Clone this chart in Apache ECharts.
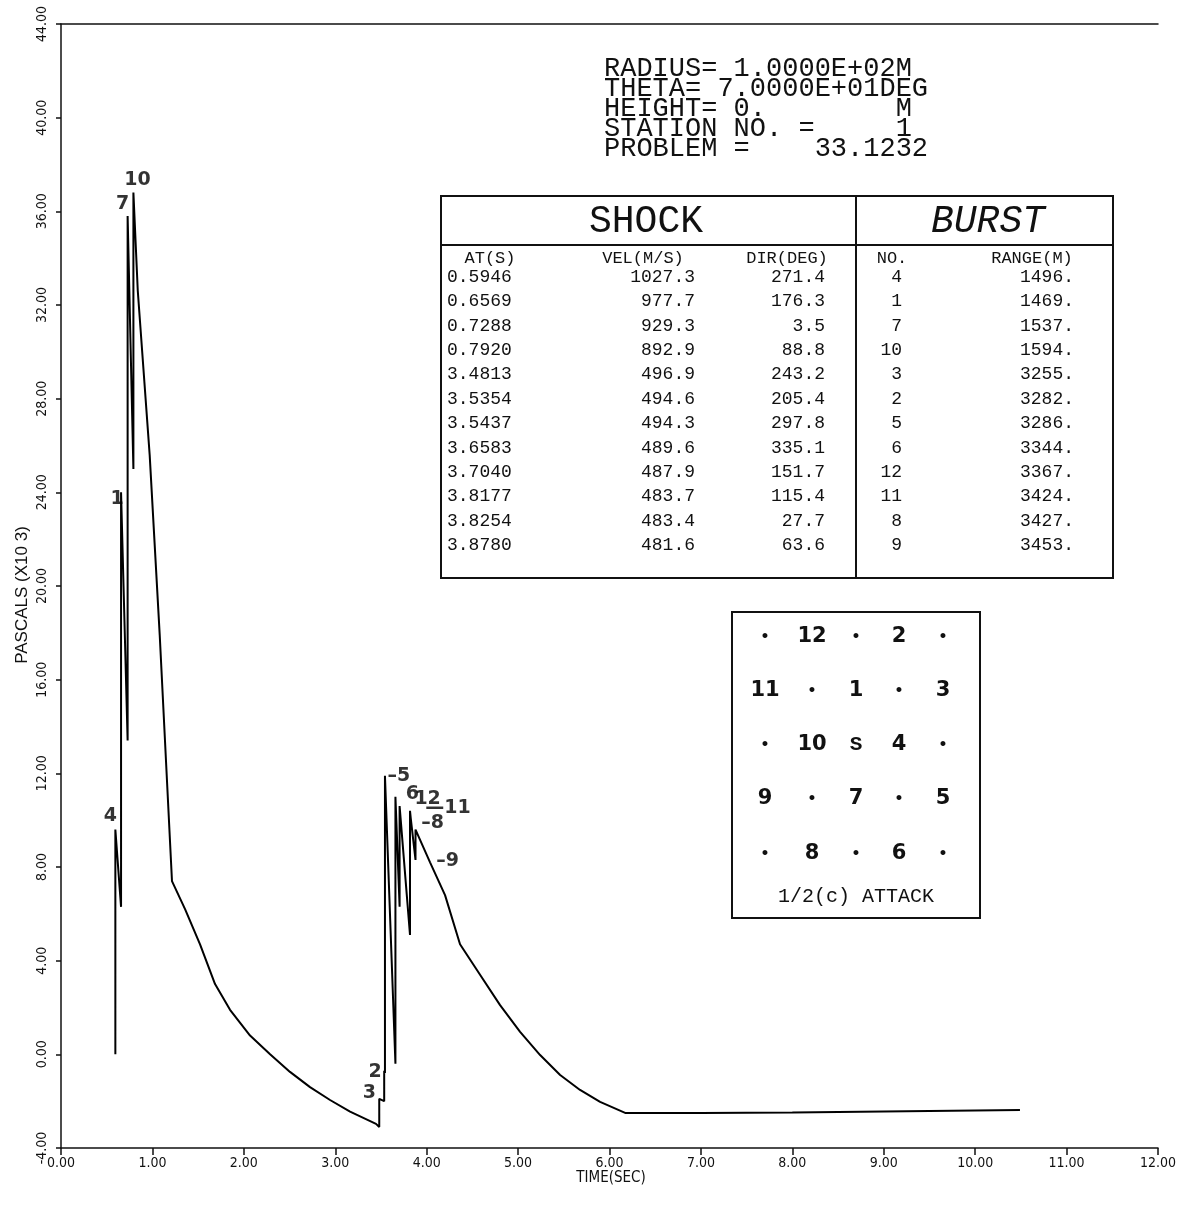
<!DOCTYPE html>
<html>
<head>
<meta charset="utf-8">
<script src="https://cdn.jsdelivr.net/npm/echarts@6/dist/echarts.min.js"></script>
<style>
  html, body { margin: 0; padding: 0; background: #fff; }
  #chart { width: 1181px; height: 1205px; }
</style>
</head>
<body>
<div id="chart"></div>
<script>
// Station 1 overpressure record, 1/2(c) attack (12 bursts)
const burstNo   = [4, 1, 7, 10, 3, 2, 5, 6, 12, 11, 8, 9];
const arrivalS  = [0.5946, 0.6569, 0.7288, 0.7920, 3.4813, 3.5354, 3.5437, 3.6583, 3.7040, 3.8177, 3.8254, 3.8780];
const velMS     = ['1027.3', '977.7', '929.3', '892.9', '496.9', '494.6', '494.3', '489.6', '487.9', '483.7', '483.4', '481.6'];
const dirDeg    = ['271.4', '176.3', '3.5', '88.8', '243.2', '205.4', '297.8', '335.1', '151.7', '115.4', '27.7', '63.6'];
const rangeM    = ['1496.', '1469.', '1537.', '1594.', '3255.', '3282.', '3286.', '3344.', '3367.', '3424.', '3427.', '3453.'];

// pressure-time history (TIME in s, PASCALS x10^3)
const curveT = [
  0.5946, 0.5946, 0.6569, 0.6569, 0.7288, 0.7288, 0.7920, 0.7920,
  0.84, 0.97, 1.08, 1.214, 1.357, 1.521, 1.685, 1.849, 2.068, 2.287, 2.505, 2.724, 2.943, 3.162, 3.446,
  3.4813, 3.4813, 3.5354, 3.5354, 3.5437, 3.5437, 3.6583, 3.6583, 3.7040, 3.7040,
  3.8177, 3.8177, 3.8254, 3.8254, 3.8780, 3.8780,
  4.037, 4.201, 4.365, 4.584, 4.803, 5.022, 5.241, 5.460, 5.678, 5.897, 6.171, 7.0, 8.0, 9.0, 10.49
];
const curvePa = [
  0.0, 9.6, 6.3, 24.0, 13.4, 35.8, 25.0, 36.8,
  32.6, 25.6, 17.9, 7.4, 6.2, 4.7, 3.0, 1.9, 0.8, 0.0, -0.75, -1.4, -1.95, -2.45, -2.97,
  -3.1, -1.9, -2.0, -0.7, -0.8, 11.9, -0.4, 11.0, 6.3, 10.6,
  5.1, 10.4, 10.1, 10.1, 8.3, 9.6,
  8.2, 6.8, 4.7, 3.4, 2.1, 0.96, -0.03, -0.88, -1.52, -2.03, -2.5, -2.5, -2.48, -2.44, -2.38
];

// axis ticks
const xTicks = [0, 1, 2, 3, 4, 5, 6, 7, 8, 9, 10, 11, 12];
const yTicks = [-4, 0, 4, 8, 12, 16, 20, 24, 28, 32, 36, 40, 44];

// where each burst's number sits relative to the top of its jump (pixels)
const burstLabelText = ['4', '1', '7', '10', '3', '2', '\u20135', '6', '12', '\u201411', '\u20138', '\u20139'];
const burstLabelOffset = [[-5, -13], [-4, 7], [-5, -12], [4, -13], [-10, -6], [-9, 1], [14, 0], [17, -3], [28, -7], [38, -3], [22, 5], [32, 32]];

const stationLines = [
  'RADIUS= 1.0000E+02M',
  'THETA= 7.0000E+01DEG',
  'HEIGHT= 0.        M',
  'STATION NO. =     1',
  'PROBLEM =    33.1232'
];

// attack pattern: 5 x 5 grid around the station S
const attackGrid = [
  ['\u2022', '12', '\u2022', '2', '\u2022'],
  ['11', '\u2022', '1', '\u2022', '3'],
  ['\u2022', '10', 'S', '4', '\u2022'],
  ['9', '\u2022', '7', '\u2022', '5'],
  ['\u2022', '8', '\u2022', '6', '\u2022']
];

const chart = echarts.init(document.getElementById('chart'));

const mono = '"Liberation Mono", "DejaVu Sans Mono", monospace';
const narrow = '"Liberation Sans Narrow", "DejaVu Sans Condensed", "Liberation Sans", sans-serif';

// peak of each burst = highest curve value at its arrival time
function peakAt(t) {
  let p = -Infinity;
  curveT.forEach((v, i) => { if (v === t) p = Math.max(p, curvePa[i]); });
  return p;
}

const labelData = arrivalS.map((t, i) => ({
  value: [t, peakAt(t)],
  label: {
    show: true,
    formatter: burstLabelText[i],
    offset: burstLabelOffset[i]
  }
}));

const graphic = [];

// station info block
stationLines.forEach((s, i) => {
  graphic.push({
    type: 'text', left: 604, top: 55 + i * 20,
    style: { text: s, font: '27px ' + mono, fill: '#111' }
  });
});

// SHOCK / BURST table
const tL = 441, tT = 196, tR = 1113, tB = 578, tDiv = 856, tHead = 245;
graphic.push({ type: 'rect', shape: { x: tL, y: tT, width: tR - tL, height: tB - tT },
  style: { fill: 'none', stroke: '#111', lineWidth: 2 } });
graphic.push({ type: 'line', shape: { x1: tL, y1: tHead, x2: tR, y2: tHead }, style: { stroke: '#111', lineWidth: 2 } });
graphic.push({ type: 'line', shape: { x1: tDiv, y1: tT, x2: tDiv, y2: tB }, style: { stroke: '#111', lineWidth: 2 } });
graphic.push({ type: 'text', x: 646, y: 222, style: { text: 'SHOCK', font: '38px ' + mono, fill: '#111', align: 'center', verticalAlign: 'middle' } });
graphic.push({ type: 'text', x: 988, y: 222, style: { text: 'BURST', font: 'italic 38px ' + mono, fill: '#111', align: 'center', verticalAlign: 'middle' } });

const colHead = [['AT(S)', 490], ['VEL(M/S)', 643], ['DIR(DEG)', 787], ['NO.', 892], ['RANGE(M)', 1032]];
colHead.forEach(([s, x]) => {
  graphic.push({ type: 'text', x: x, y: 258, style: { text: s, font: '17px ' + mono, fill: '#111', align: 'center', verticalAlign: 'middle' } });
});

arrivalS.forEach((t, i) => {
  const y = 277 + i * 24.4;
  const f = '18px ' + mono;
  graphic.push({ type: 'text', x: 447, y: y, style: { text: t.toFixed(4), font: f, fill: '#111', align: 'left', verticalAlign: 'middle' } });
  graphic.push({ type: 'text', x: 695, y: y, style: { text: velMS[i], font: f, fill: '#111', align: 'right', verticalAlign: 'middle' } });
  graphic.push({ type: 'text', x: 825, y: y, style: { text: dirDeg[i], font: f, fill: '#111', align: 'right', verticalAlign: 'middle' } });
  graphic.push({ type: 'text', x: 902, y: y, style: { text: String(burstNo[i]), font: f, fill: '#111', align: 'right', verticalAlign: 'middle' } });
  graphic.push({ type: 'text', x: 1074, y: y, style: { text: rangeM[i], font: f, fill: '#111', align: 'right', verticalAlign: 'middle' } });
});

// attack pattern box
graphic.push({ type: 'rect', shape: { x: 732, y: 612, width: 248, height: 306 },
  style: { fill: 'none', stroke: '#111', lineWidth: 2 } });
const gx = [765, 812, 856, 899, 943], gy = [637, 691, 745, 799, 854];
attackGrid.forEach((row, r) => {
  row.forEach((s, c) => {
    graphic.push({ type: 'text', x: gx[c], y: gy[r],
      style: { text: s, font: 'bold ' + (s === '\u2022' ? 14 : 21) + 'px ' + (s === 'S' ? mono : '"DejaVu Sans", sans-serif'),
        fill: '#111', align: 'center', verticalAlign: 'middle' } });
  });
});
graphic.push({ type: 'text', x: 856, y: 897, style: { text: '1/2(c) ATTACK', font: '20px ' + mono, fill: '#111', align: 'center', verticalAlign: 'middle' } });

// axis titles
graphic.push({ type: 'text', x: 611, y: 1178, style: { text: 'TIME(SEC)', font: '15px ' + narrow, fill: '#111', align: 'center', verticalAlign: 'middle' } });
graphic.push({ type: 'text', x: 22, y: 595, rotation: Math.PI / 2, style: { text: 'PASCALS (X10 3)', font: '17px "Liberation Sans", sans-serif', fill: '#111', align: 'center', verticalAlign: 'middle' } });

chart.setOption({
  backgroundColor: '#fff',
  animation: false,
  grid: { left: 61, top: 24, right: 23, bottom: 57, containLabel: false },
  xAxis: [{
    type: 'value', min: 0, max: 12, interval: 1,
    axisLine: { show: true, onZero: false, lineStyle: { color: '#111', width: 1.5 } },
    axisTick: { show: true, length: 7, lineStyle: { color: '#111', width: 1.5 } },
    splitLine: { show: false },
    axisLabel: { color: '#111', fontSize: 14, fontFamily: narrow, margin: 8,
      formatter: v => xTicks.includes(v) ? v.toFixed(2) : '' }
  }, {
    type: 'value', min: 0, max: 12, position: 'top',
    axisLine: { show: true, onZero: false, lineStyle: { color: '#111', width: 1.5 } },
    axisTick: { show: false }, axisLabel: { show: false }, splitLine: { show: false }
  }],
  yAxis: {
    type: 'value', min: -4, max: 44, interval: 4,
    axisLine: { show: true, onZero: false, lineStyle: { color: '#111', width: 1.5 } },
    axisTick: { show: true, length: 5, lineStyle: { color: '#111', width: 1.5 } },
    splitLine: { show: false },
    axisLabel: { color: '#111', fontSize: 14, fontFamily: narrow, rotate: 90, margin: 12,
      formatter: v => yTicks.includes(v) ? v.toFixed(2) : '' }
  },
  series: [{
    type: 'line',
    data: curveT.map((t, i) => [t, curvePa[i]]),
    showSymbol: false,
    lineStyle: { color: '#000', width: 2 },
    z: 3
  }, {
    type: 'scatter',
    data: labelData,
    symbolSize: 0,
    label: { show: true, color: '#000', fontSize: 19, fontWeight: 'bold', textBorderWidth: 0,
      fontFamily: '"DejaVu Sans", sans-serif', position: 'inside' },
    z: 4
  }],
  graphic: graphic
});
</script>
</body>
</html>
